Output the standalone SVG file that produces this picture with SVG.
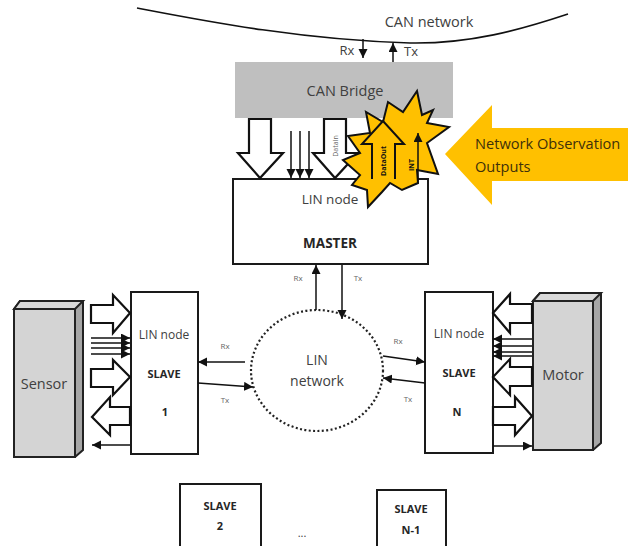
<svg xmlns="http://www.w3.org/2000/svg" width="628" height="546" viewBox="0 0 628 546">
<style>
text{font-family:"Open Sans","Liberation Sans",sans-serif;fill:#404040;text-anchor:middle}
.b{font-weight:700;fill:#262626}
.box{fill:#fff;stroke:#1a1a1a;stroke-width:2}
.big{fill:#fff;stroke:#111;stroke-width:2.2}
.w{fill:none;stroke:#111;stroke-width:1.5}
.s{font-size:8px;fill:#666}
.m{font-size:13px}
</style>
<defs>
<marker id="a" markerUnits="userSpaceOnUse" markerWidth="10" markerHeight="10" refX="9" refY="4.5" orient="auto"><path d="M0 0L9 4.5L0 9Z" fill="#111"/></marker>
</defs>
<rect width="628" height="546" fill="#fff"/>
<g id="can-network">
<path d="M137 8C200 20 300 40 410 43C470 44 520 30 568 14" fill="none" stroke="#111" stroke-width="1.6"/>
<text x="429" y="27" font-size="14.5">CAN network</text>
</g>
<g id="can-bridge">
<rect x="235" y="62" width="218" height="56" fill="#bfbfbf"/>
<text x="345" y="96" font-size="14.5">CAN Bridge</text>
</g>
<g id="master">
<rect class="box" x="233" y="179" width="195" height="85"/>
<text x="330" y="204" font-size="13.5">LIN node</text>
<text x="330" y="248" class="b" font-size="13.5">MASTER</text>
</g>
<g id="slave-1">
<rect class="box" x="131" y="292" width="67" height="162"/>
<text x="164" y="339" font-size="12">LIN node</text>
<text x="164" y="378" class="b" font-size="11">SLAVE</text>
<text x="165" y="416" class="b" font-size="11">1</text>
</g>
<g id="slave-n">
<rect class="box" x="425" y="292" width="68" height="161"/>
<text x="459" y="338" font-size="12">LIN node</text>
<text x="459" y="377" class="b" font-size="11">SLAVE</text>
<text x="457" y="416" class="b" font-size="11">N</text>
</g>
<g id="sensor">
<path d="M14 309L20 301H83V450L75 457H14Z" fill="#a6a6a6" stroke="#222" stroke-width="2"/>
<path d="M14 309H75V457H14Z" fill="#d4d4d4" stroke="#222" stroke-width="2"/>
<path d="M14 309L20 301H83L75 309Z" fill="#d9d9d9" stroke="#222" stroke-width="2"/>
<text x="44" y="389" font-size="14.5">Sensor</text>
</g>
<g id="motor">
<path d="M533 301L540 293H601V443L593 450H533Z" fill="#a6a6a6" stroke="#222" stroke-width="2"/>
<path d="M533 301H593V450H533Z" fill="#d4d4d4" stroke="#222" stroke-width="2"/>
<path d="M533 301L540 293H601L593 301Z" fill="#d9d9d9" stroke="#222" stroke-width="2"/>
<text x="563" y="380" font-size="14.5">Motor</text>
</g>
<g id="lin-network">
<ellipse cx="317" cy="370.5" rx="66" ry="60.5" fill="#fff" stroke="#222" stroke-width="2.2" stroke-dasharray="2 2.4"/>
<text x="317" y="365" font-size="14">LIN</text>
<text x="317" y="386" font-size="14">network</text>
</g>
<g id="slave-2">
<path class="box" d="M180 546V484H261V546"/>
<text x="220" y="510" class="b" font-size="11">SLAVE</text>
<text x="220" y="530" class="b" font-size="11">2</text>
</g>
<g id="slave-n-1">
<path class="box" d="M377 546V490H446V546"/>
<text x="411" y="513" class="b" font-size="11">SLAVE</text>
<text x="411" y="534" class="b" font-size="11">N-1</text>
</g>
<text x="302" y="537" font-size="11">...</text>
<g id="connectors">
<path class="w" marker-end="url(#a)" d="M363 39V58"/>
<path class="w" marker-end="url(#a)" d="M393 62V43"/>
<path class="big" d="M249 119H271V153H283L260 178L238 153H249Z"/>
<path class="w" marker-end="url(#a)" d="M291 131V178"/>
<path class="w" marker-end="url(#a)" d="M300 131V178"/>
<path class="w" marker-end="url(#a)" d="M309 131V178"/>
<path class="big" d="M324 119H346V153H358L335 178L313 153H324Z"/>
<path class="big" d="M91 305H113V295L130 313L113 333V323H91Z"/>
<path class="big" d="M91 369H113V360L130 377L113 395V387H91Z"/>
<path class="w" marker-end="url(#a)" d="M91 338H130"/>
<path class="w" marker-end="url(#a)" d="M91 343H130"/>
<path class="w" marker-end="url(#a)" d="M91 348H130"/>
<path class="w" marker-end="url(#a)" d="M91 354H130"/>
<path class="big" d="M130 407H110V397L92 417L110 435V425H130Z"/>
<path class="w" marker-end="url(#a)" d="M130 445H92"/>
<path class="w" marker-end="url(#a)" d="M245 362H198"/>
<path class="w" marker-end="url(#a)" d="M198 383L253 387"/>
<path class="big" d="M532 304H510V294L493 313L510 333V323H532Z"/>
<path class="big" d="M532 367H510V359L493 377L510 395V386H532Z"/>
<path class="w" marker-end="url(#a)" d="M532 339H493"/>
<path class="w" marker-end="url(#a)" d="M532 346H493"/>
<path class="w" marker-end="url(#a)" d="M532 352H493"/>
<path class="w" marker-end="url(#a)" d="M532 356H493"/>
<path class="big" d="M493 407H515V397L532 416L515 435V425H493Z"/>
<path class="w" marker-end="url(#a)" d="M493 446H532"/>
<path class="w" marker-end="url(#a)" d="M383 356L425 362"/>
<path class="w" marker-end="url(#a)" d="M425 383L383 378"/>
<path class="w" marker-end="url(#a)" d="M316 310V265"/>
<path class="w" marker-end="url(#a)" d="M342 265V319"/>
</g>
<g id="labels">
<text x="347" y="55" font-size="13">Rx</text>
<text x="411" y="56" font-size="13">Tx</text>
<text x="298" y="281" class="s">Rx</text>
<text x="358" y="281" class="s">Tx</text>
<text x="225" y="349" class="s">Rx</text>
<text x="225" y="403" class="s">Tx</text>
<text x="398" y="344" class="s">Rx</text>
<text x="408" y="402" class="s">Tx</text>
<text transform="translate(338 146) rotate(-90)" font-size="7" style="fill:#666">DataIn</text>
</g>
<g id="network-observation">
<path d="M417 91L422 115L433 110L427 123L449 127L427 143L438 174L417 170L418 183L402 190L390 183L382 192L368 207L367 190L352 185L360 175L343 160L360 153L348 136L370 133L366 112L383 122L388 102L403 112Z" fill="#ffc000" stroke="#111" stroke-width="2"/>
<path d="M372 179V144H362L383 121L404 144H395V179" fill="#ffc000" stroke="#111" stroke-width="2"/>
<path class="w" marker-end="url(#a)" d="M418 183V133"/>
<text transform="translate(386 161) rotate(-90)" font-size="7" class="b" style="fill:#111">DataOut</text>
<text transform="translate(414 165) rotate(-90)" font-size="7" class="b" style="fill:#111">INT</text>
<path d="M445 154L492 105V128H628V181H492V205Z" fill="#ffc000"/>
<text x="475" y="149" font-size="14.6" style="text-anchor:start;fill:#40300a">Network Observation</text>
<text x="475" y="172" font-size="14.6" style="text-anchor:start;fill:#40300a">Outputs</text>
</g>
</svg>
